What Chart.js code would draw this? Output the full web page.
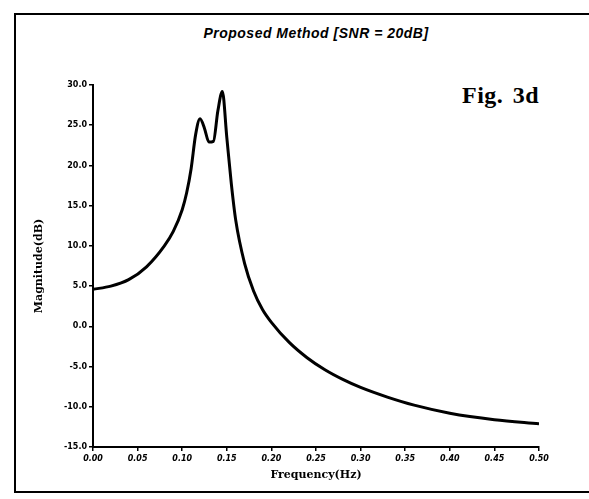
<!DOCTYPE html>
<html>
<head>
<meta charset="utf-8">
<script src="https://cdn.jsdelivr.net/npm/chart.js@4.4.1/dist/chart.umd.min.js"></script>
<style>
  html, body { margin: 0; padding: 0; background: #fff; overflow: hidden; }
  #wrap { position: relative; width: 589px; height: 499px; }
  #frame {
    position: absolute; left: 14px; top: 13px; width: 600px; height: 476px;
    border: 2px solid #000; border-right: none;
  }
  #title {
    position: absolute; left: 0; width: 632px; top: 25px; text-align: center;
    font: italic bold 14px "Liberation Sans", sans-serif; color: #000;
    letter-spacing: 0.5px;
  }
  #fig {
    position: absolute; left: 462px; top: 82px;
    font: bold 24px "Liberation Serif", serif; color: #000;
    letter-spacing: 0.5px; word-spacing: 3px;
  }
  canvas { position: absolute; left: 0; top: 0; }
</style>
</head>
<body>
<div id="wrap">
  <div id="frame"></div>
  <div id="title">Proposed Method [SNR = 20dB]</div>
  <div id="fig">Fig. 3d</div>
  <canvas id="c" width="589" height="499"></canvas>
</div>
<script>
// spectrum estimate, frequency in Hz and magnitude in dB
const freqs = [0, 0.02, 0.04, 0.06, 0.08, 0.09, 0.10, 0.105, 0.11, 0.115, 0.12, 0.125,
  0.13, 0.135, 0.14, 0.145, 0.15, 0.155, 0.16, 0.17, 0.18, 0.19, 0.20, 0.22, 0.24,
  0.26, 0.28, 0.30, 0.33, 0.36, 0.40, 0.45, 0.50];
const magnitudes = [4.6, 5.0, 5.8, 7.4, 10.0, 11.8, 14.5, 16.6, 19.6, 23.8, 25.8, 24.6,
  22.9, 23.0, 26.8, 29.2, 23.5, 17.8, 13.2, 7.8, 4.4, 2.1, 0.5, -2.0, -3.9,
  -5.4, -6.6, -7.6, -8.8, -9.8, -10.8, -11.6, -12.1];

const xTicks = [0, 0.05, 0.10, 0.15, 0.20, 0.25, 0.30, 0.35, 0.40, 0.45, 0.50];
const yTicks = [30, 25, 20, 15, 10, 5, 0, -5, -10, -15];

const points = freqs.map((f, i) => ({ x: f, y: magnitudes[i] }));
const tickFont = { family: 'DejaVu Sans', size: 8, weight: 'bold' };

new Chart(document.getElementById('c'), {
  type: 'line',
  data: {
    datasets: [{
      data: points,
      borderColor: '#000',
      borderWidth: 3,
      pointRadius: 0,
      cubicInterpolationMode: 'monotone',
      fill: false
    }]
  },
  options: {
    responsive: false,
    animation: false,
    layout: { padding: { left: 0, top: 85, right: 50, bottom: 0 } },
    plugins: { legend: { display: false }, tooltip: { enabled: false } },
    scales: {
      x: {
        type: 'linear',
        min: 0, max: 0.5,
        afterBuildTicks: s => { s.ticks = xTicks.map(v => ({ value: v })); },
        afterFit: s => { s.height = 52; },
        ticks: {
          color: '#000',
          font: { ...tickFont, style: 'italic' },
          padding: 3,
          maxRotation: 0,
          callback: v => v.toFixed(2)
        },
        grid: { drawOnChartArea: false, drawTicks: true, tickLength: 4, color: '#000', lineWidth: 1.5 },
        border: { display: true, color: '#000', width: 2 },
        title: {
          display: true, text: 'Frequency(Hz)', color: '#000',
          font: { family: 'DejaVu Serif', size: 11, weight: 'bold' },
          padding: { top: 0, bottom: 17 }
        }
      },
      y: {
        min: -15, max: 30,
        afterBuildTicks: s => { s.ticks = yTicks.map(v => ({ value: v })); },
        afterFit: s => { s.width = 93; },
        ticks: {
          color: '#000',
          font: tickFont,
          padding: 2,
          callback: v => v.toFixed(1)
        },
        grid: { drawOnChartArea: false, drawTicks: true, tickLength: 4, color: '#000', lineWidth: 1.5 },
        border: { display: true, color: '#000', width: 2 },
        title: {
          display: true, text: 'Magnitude(dB)', color: '#000',
          font: { family: 'DejaVu Serif', size: 11, weight: 'bold' },
          padding: { top: 33, bottom: 0 }
        }
      }
    }
  }
});
</script>
</body>
</html>
